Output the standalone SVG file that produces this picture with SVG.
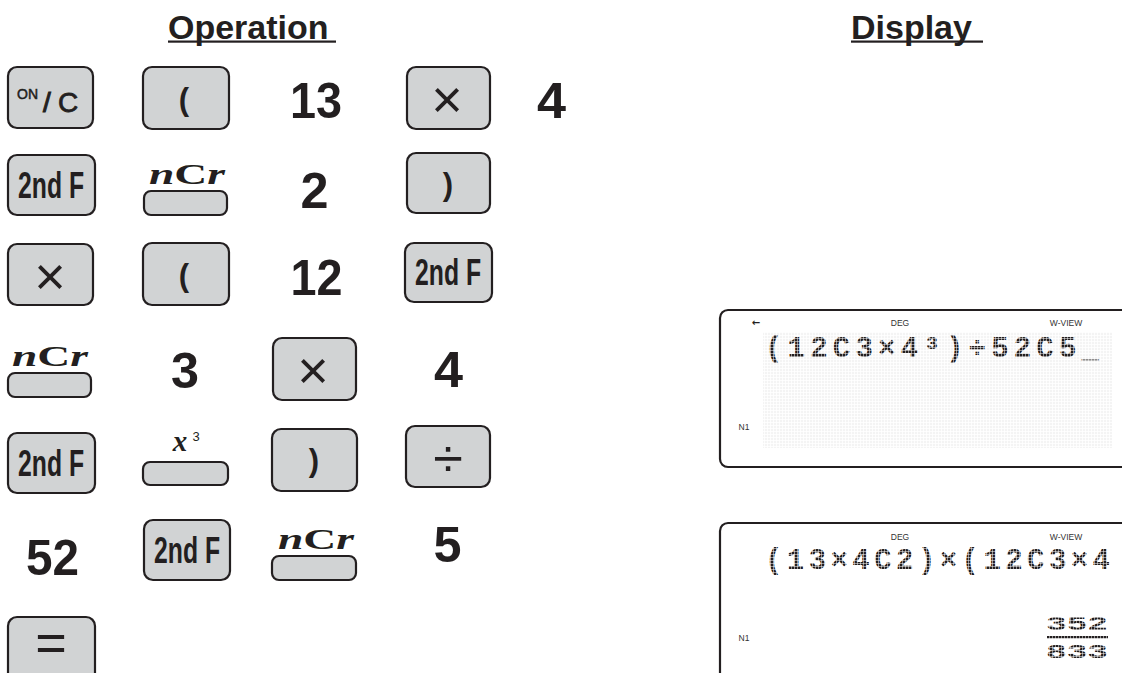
<svg xmlns="http://www.w3.org/2000/svg" width="1122" height="673" viewBox="0 0 1122 673">
<style>
.key{fill:#d1d3d4;stroke:#231f20;stroke-width:2.2}
.t{fill:#231f20;font-family:"Liberation Sans",Arial,sans-serif}
.num{fill:#231f20;font-family:"Liberation Sans",Arial,sans-serif;font-weight:bold;font-size:50px;text-anchor:middle}
.kf{fill:#231f20;font-family:"Liberation Sans",Arial,sans-serif;font-weight:bold;font-size:36px;text-anchor:middle}
.par{fill:#231f20;font-family:"Liberation Sans",Arial,sans-serif;font-weight:bold;font-size:31px;text-anchor:middle}
.sym{fill:#231f20;font-family:"Liberation Sans",Arial,sans-serif;font-size:54px;text-anchor:middle}
.ncr{fill:#231f20;font-family:"Liberation Serif","Times New Roman",serif;font-weight:bold;font-size:29px;text-anchor:middle}
.hdr{fill:#231f20;font-family:"Liberation Sans",Arial,sans-serif;font-weight:bold;font-size:34px}
.lcd{fill:#fff;stroke:#231f20;stroke-width:2.2}
.sm{fill:#333;font-family:"Liberation Sans",Arial,sans-serif;font-size:8.5px;text-anchor:middle}
.dot{fill:url(#dots);font-family:"Liberation Mono","Courier New",monospace;font-weight:bold}
</style>
<defs>
<pattern id="dots" width="3" height="3" patternUnits="userSpaceOnUse"><rect width="2.5" height="2.5" fill="#231f20"/></pattern>
<pattern id="grid" width="3" height="3" patternUnits="userSpaceOnUse"><rect width="2.2" height="2.2" fill="#f4f4f4"/></pattern>
</defs>
<rect width="1122" height="673" fill="#fff"/>

<g id="headers">
<text class="hdr" x="168" y="39">Operation</text>
<rect x="168" y="40.5" width="168" height="2.2" fill="#231f20"/>
<text class="hdr" x="851" y="39">Display</text>
<rect x="851" y="40.5" width="132" height="2.2" fill="#231f20"/>
</g>

<!-- Row 1 -->
<g id="key-onc"><rect class="key" x="8" y="67" width="85" height="61" rx="9"/>
<text class="t" x="17" y="99" font-size="14" stroke="#231f20" stroke-width="0.5">ON</text>
<text class="t" x="43" y="112" font-size="28" stroke="#231f20" stroke-width="1">/</text>
<text class="t" x="58" y="112" font-size="28" stroke="#231f20" stroke-width="0.8">C</text></g>
<g id="key-lparen1"><rect class="key" x="143" y="67" width="86" height="62" rx="9"/><text class="par" x="184" y="110">(</text></g>
<g id="num-13"><text class="num" x="316" y="118" textLength="52" lengthAdjust="spacingAndGlyphs">13</text></g>
<g id="key-times1"><rect class="key" x="407" y="67" width="83" height="62" rx="9"/><text class="sym" x="447" y="118">×</text></g>
<g id="num-4a"><text class="num" x="551.5" y="118" textLength="29" lengthAdjust="spacingAndGlyphs">4</text></g>

<!-- Row 2 -->
<g id="key-2ndf1"><rect class="key" x="8" y="155" width="87" height="60" rx="9"/><text class="kf" x="51" y="198" textLength="66" lengthAdjust="spacingAndGlyphs">2nd F</text></g>
<g id="key-ncr1"><text class="ncr" x="187" y="184" textLength="76" lengthAdjust="spacingAndGlyphs"><tspan font-style="italic">n</tspan>C<tspan font-style="italic">r</tspan></text><rect class="key" x="144" y="191" width="83" height="24" rx="7"/></g>
<g id="num-2"><text class="num" x="314.5" y="208" textLength="28" lengthAdjust="spacingAndGlyphs">2</text></g>
<g id="key-rparen1"><rect class="key" x="407" y="153" width="83" height="60" rx="9"/><text class="par" x="448" y="195" font-size="29">)</text></g>

<!-- Row 3 -->
<g id="key-times2"><rect class="key" x="8" y="244" width="85" height="61" rx="9"/><text class="sym" x="50" y="295">×</text></g>
<g id="key-lparen2"><rect class="key" x="143" y="243" width="86" height="62" rx="9"/><text class="par" x="184" y="286">(</text></g>
<g id="num-12"><text class="num" x="316.5" y="295" textLength="52" lengthAdjust="spacingAndGlyphs">12</text></g>
<g id="key-2ndf2"><rect class="key" x="405" y="243" width="87" height="59" rx="9"/><text class="kf" x="448" y="285" textLength="66" lengthAdjust="spacingAndGlyphs">2nd F</text></g>

<!-- Row 4 -->
<g id="key-ncr2"><text class="ncr" x="50" y="366" textLength="76" lengthAdjust="spacingAndGlyphs"><tspan font-style="italic">n</tspan>C<tspan font-style="italic">r</tspan></text><rect class="key" x="8" y="373" width="83" height="24" rx="7"/></g>
<g id="num-3"><text class="num" x="185" y="388" textLength="28" lengthAdjust="spacingAndGlyphs">3</text></g>
<g id="key-times3"><rect class="key" x="273" y="338" width="83" height="62" rx="9"/><text class="sym" x="313" y="389">×</text></g>
<g id="num-4b"><text class="num" x="448.5" y="387" textLength="29" lengthAdjust="spacingAndGlyphs">4</text></g>

<!-- Row 5 -->
<g id="key-2ndf3"><rect class="key" x="8" y="433" width="87" height="60" rx="9"/><text class="kf" x="51" y="476" textLength="66" lengthAdjust="spacingAndGlyphs">2nd F</text></g>
<g id="key-cube"><text x="180" y="451" class="ncr" font-size="32" font-style="italic">x</text><text class="t" x="196" y="441" font-size="13" text-anchor="middle">3</text><rect class="key" x="143" y="462" width="85" height="23" rx="7"/></g>
<g id="key-rparen2"><rect class="key" x="272" y="429" width="85" height="62" rx="9"/><text class="par" x="314" y="471" font-size="29">)</text></g>
<g id="key-div"><rect class="key" x="406" y="426" width="84" height="61" rx="9"/><text class="sym" x="448" y="477">÷</text></g>

<!-- Row 6 -->
<g id="num-52"><text class="num" x="52.5" y="575" textLength="53" lengthAdjust="spacingAndGlyphs">52</text></g>
<g id="key-2ndf4"><rect class="key" x="144" y="520" width="86" height="60" rx="9"/><text class="kf" x="187" y="563" textLength="66" lengthAdjust="spacingAndGlyphs">2nd F</text></g>
<g id="key-ncr3"><text class="ncr" x="316" y="549" textLength="76" lengthAdjust="spacingAndGlyphs"><tspan font-style="italic">n</tspan>C<tspan font-style="italic">r</tspan></text><rect class="key" x="272" y="556" width="84" height="24" rx="7"/></g>
<g id="num-5"><text class="num" x="447.5" y="562" textLength="28" lengthAdjust="spacingAndGlyphs">5</text></g>

<!-- Row 7 -->
<g id="key-equals"><rect class="key" x="8" y="617" width="87" height="70" rx="9"/><text class="sym" x="51" y="661" font-size="56">=</text></g>

<!-- Display 1 -->
<g id="display1">
<rect class="lcd" x="720" y="310" width="440" height="157" rx="8"/>
<rect x="763" y="332" width="349" height="116" fill="url(#grid)"/>
<text x="756" y="326" font-family="DejaVu Sans,sans-serif" font-weight="bold" font-size="10" fill="#231f20" text-anchor="middle">←</text>
<text class="sm" x="900" y="326">DEG</text>
<text class="sm" x="1066" y="326">W-VIEW</text>
<text class="sm" x="744" y="430" font-size="8">N1</text>
<text class="dot" x="765" y="357" font-size="29" textLength="334" lengthAdjust="spacing">(12C3×4³)÷52C5_</text>
</g>

<!-- Display 2 -->
<g id="display2">
<rect class="lcd" x="720" y="523" width="440" height="200" rx="8"/>
<text class="sm" x="900" y="540">DEG</text>
<text class="sm" x="1066" y="540">W-VIEW</text>
<text class="sm" x="744" y="641" font-size="8">N1</text>
<text class="dot" x="765" y="569" font-size="29" textLength="345" lengthAdjust="spacing">(13×4C2)×(12C3×4</text>
<text class="dot" x="1046" y="630" font-size="21" textLength="62" lengthAdjust="spacingAndGlyphs">352</text>
<rect x="1047" y="636" width="61" height="2.5" fill="url(#dots)"/>
<text class="dot" x="1046" y="658" font-size="21" textLength="62" lengthAdjust="spacingAndGlyphs">833</text>
</g>
</svg>
